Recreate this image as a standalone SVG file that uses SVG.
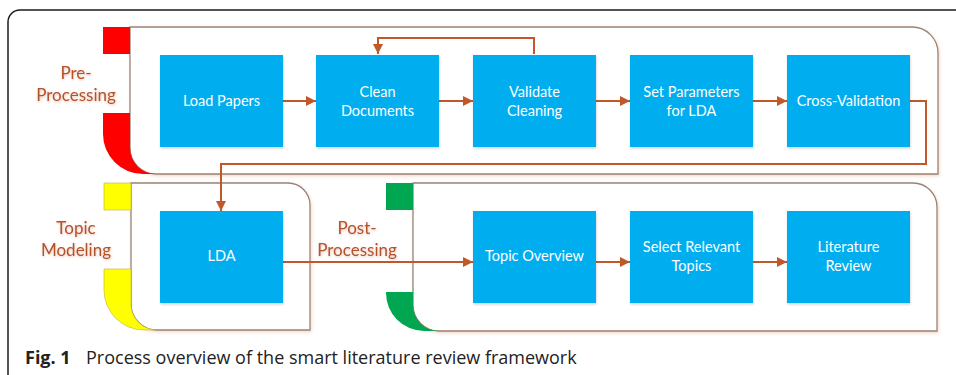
<svg xmlns="http://www.w3.org/2000/svg" width="956" height="375" viewBox="0 0 956 375">
<defs>
<style>
.lane{fill:#ffffff;stroke:#9a8276;stroke-width:1.3;filter:url(#glow)}
.box{fill:#00AEEF;filter:url(#bshadow)}
.bt{font-family:Lato,"Open Sans",sans-serif;font-size:14.5px;fill:#ffffff;text-anchor:middle}
.lt{font-family:Lato,"Open Sans",sans-serif;font-size:17px;fill:#B3532C;text-anchor:middle;filter:url(#tglow)}
.con{fill:none;stroke:#C0582A;stroke-width:2}
.cap{font-family:"Open Sans","Noto Sans",sans-serif;font-size:18px;fill:#222222}
</style>
<marker id="ah" viewBox="0 0 10 10" refX="10" refY="5" markerWidth="5" markerHeight="5" orient="auto" markerUnits="strokeWidth">
<path d="M0,0 L10,5 L0,10 Z" fill="#C0582A"/>
</marker>
<filter id="glow" x="-5%" y="-10%" width="110%" height="120%">
<feDropShadow dx="1" dy="1.5" stdDeviation="1.5" flood-color="#e8a888" flood-opacity="0.45"/>
</filter>
<filter id="bshadow" x="-10%" y="-10%" width="120%" height="125%">
<feDropShadow dx="0.5" dy="1.5" stdDeviation="1.2" flood-color="#000000" flood-opacity="0.18"/>
</filter>
<filter id="tglow" x="-10%" y="-30%" width="120%" height="160%">
<feDropShadow dx="0.5" dy="1" stdDeviation="1.2" flood-color="#d07050" flood-opacity="0.45"/>
</filter>
</defs>
<rect width="956" height="375" fill="#ffffff"/>
<path d="M8,380 V22 A12,12 0 0 1 20,10 H962" fill="none" stroke="#1a1a1a" stroke-width="1.5"/>

<g id="lane-pre">
<path class="lane" d="M130,27 H912 A26,26 0 0 1 938,53 V174 H156 A26,26 0 0 1 130,148 Z"/>
<rect x="103" y="27" width="27" height="27" fill="#FF0000"/>
<path d="M103,113 H130 V148 A26,26 0 0 0 156,174 H143 A40,40 0 0 1 103,134 Z" fill="#FF0000"/>
<text class="lt" x="76" y="79">Pre-</text>
<text class="lt" x="76" y="101">Processing</text>
</g>

<g id="lane-topic">
<path class="lane" d="M131,183 H288 A22,22 0 0 1 310,205 V330 H157 A26,26 0 0 1 131,304 Z"/>
<rect x="104" y="183" width="27" height="27" fill="#FFFF00" stroke="#b8b040" stroke-width="0.6"/>
<path d="M104,269 H131 V304 A26,26 0 0 0 157,330 H144 A40,40 0 0 1 104,290 Z" fill="#FFFF00" stroke="#b8b040" stroke-width="0.6"/>
<text class="lt" x="76" y="234">Topic</text>
<text class="lt" x="76" y="256">Modeling</text>
</g>

<g id="lane-post">
<path class="lane" d="M413,183 H913 A24,24 0 0 1 937,207 V331 H439 A26,26 0 0 1 413,305 Z"/>
<rect x="386" y="183" width="27" height="27" fill="#00A650"/>
<path d="M386,292 H413 V305 A26,26 0 0 0 439,331 H424 A38,38 0 0 1 386,293 Z" fill="#00A650"/>
<text class="lt" x="357" y="234">Post-</text>
<text class="lt" x="357" y="256">Processing</text>
</g>

<g id="connectors">
<line class="con" x1="283" y1="101" x2="316" y2="101" marker-end="url(#ah)"/>
<line class="con" x1="439" y1="101" x2="473" y2="101" marker-end="url(#ah)"/>
<line class="con" x1="596" y1="101" x2="630" y2="101" marker-end="url(#ah)"/>
<line class="con" x1="753" y1="101" x2="787" y2="101" marker-end="url(#ah)"/>
<polyline class="con" points="534,54 534,38 378,38 378,54" marker-end="url(#ah)"/>
<polyline class="con" points="910,101 926,101 926,164 221,164 221,211" marker-end="url(#ah)"/>
<line class="con" x1="283" y1="262" x2="473" y2="262" marker-end="url(#ah)"/>
<line class="con" x1="596" y1="262" x2="630" y2="262" marker-end="url(#ah)"/>
<line class="con" x1="753" y1="262" x2="787" y2="262" marker-end="url(#ah)"/>
</g>

<g id="n-load"><rect class="box" x="160" y="55" width="123" height="92"/><text class="bt" x="221.5" y="106">Load Papers</text></g>
<g id="n-clean"><rect class="box" x="316" y="55" width="123" height="92"/><text class="bt" x="377.5" y="97">Clean</text><text class="bt" x="377.5" y="116">Documents</text></g>
<g id="n-validate"><rect class="box" x="473" y="55" width="123" height="92"/><text class="bt" x="534.5" y="97">Validate</text><text class="bt" x="534.5" y="116">Cleaning</text></g>
<g id="n-params"><rect class="box" x="630" y="55" width="123" height="92"/><text class="bt" x="691.5" y="97">Set Parameters</text><text class="bt" x="691.5" y="116">for LDA</text></g>
<g id="n-cross"><rect class="box" x="787" y="55" width="123" height="92"/><text class="bt" x="848.5" y="106">Cross-Validation</text></g>
<g id="n-lda"><rect class="box" x="160" y="211" width="123" height="92"/><text class="bt" x="221.5" y="261">LDA</text></g>
<g id="n-overview"><rect class="box" x="473" y="211" width="123" height="92"/><text class="bt" x="534.5" y="261">Topic Overview</text></g>
<g id="n-select"><rect class="box" x="630" y="211" width="123" height="92"/><text class="bt" x="691.5" y="252">Select Relevant</text><text class="bt" x="691.5" y="271">Topics</text></g>
<g id="n-lit"><rect class="box" x="787" y="211" width="123" height="92"/><text class="bt" x="848.5" y="252">Literature</text><text class="bt" x="848.5" y="271">Review</text></g>

<g id="caption">
<text class="cap" x="25" y="364"><tspan font-weight="bold">Fig. 1</tspan><tspan x="86">Process overview of the smart literature review framework</tspan></text>
</g>
</svg>
